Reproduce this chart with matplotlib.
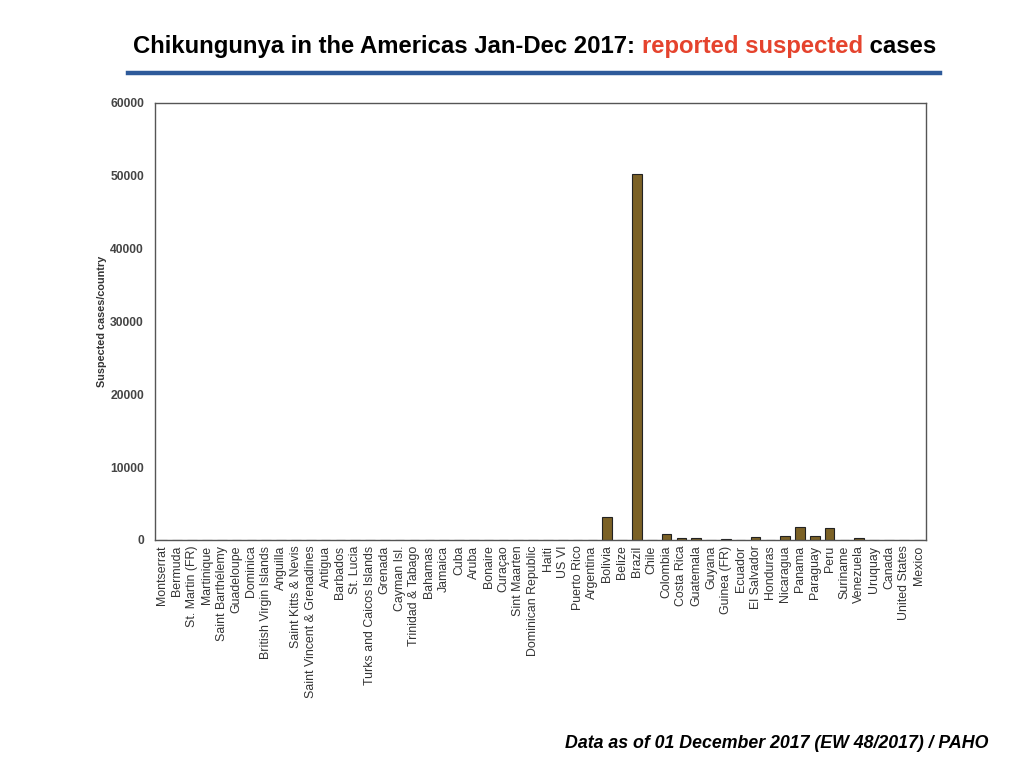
import matplotlib
matplotlib.use("Agg")
import matplotlib.pyplot as plt
from matplotlib.lines import Line2D

plt.rcParams["font.family"] = ["Liberation Sans", "DejaVu Sans"]

countries = [
    "Montserrat", "Bermuda", "St. Martin (FR)", "Martinique", "Saint Barthélemy",
    "Guadeloupe", "Dominica", "British Virgin Islands", "Anguilla", "Saint Kitts & Nevis",
    "Saint Vincent & Grenadines", "Antigua", "Barbados", "St. Lucia",
    "Turks and Caicos Islands", "Grenada", "Cayman Isl.", "Trinidad & Tabago",
    "Bahamas", "Jamaica", "Cuba", "Aruba", "Bonaire", "Curaçao", "Sint Maarten",
    "Dominican Republic", "Haiti", "US VI", "Puerto Rico", "Argentina", "Bolivia",
    "Belize", "Brazil", "Chile", "Colombia", "Costa Rica", "Guatemala", "Guyana",
    "Guinea (FR)", "Ecuador", "El Salvador", "Honduras", "Nicaragua", "Panama",
    "Paraguay", "Peru", "Suriname", "Venezuela", "Uruquay", "Canada",
    "United States", "Mexico",
]
cases = [
    0, 0, 0, 0, 0, 0, 0, 0, 0, 0, 0, 0, 0, 0, 0, 0, 0, 0, 0, 0, 0, 0, 0, 0, 0,
    0, 0, 0, 0, 0, 3120, 0, 50200, 0, 820, 230, 230, 0, 100, 0, 460, 0, 600,
    1790, 600, 1700, 0, 230, 0, 0, 0, 0,
]
yticks = [0, 10000, 20000, 30000, 40000, 50000, 60000]

fig = plt.figure(figsize=(10.24, 7.68), dpi=100)
ax = fig.add_axes([0.1514, 0.2969, 0.7529, 0.569])

x = range(len(countries))
ax.bar(x, cases, width=0.65, color="#7B6126", edgecolor="#222222", linewidth=0.8)
ax.set_xlim(-0.5, len(countries) - 0.5)
ax.set_ylim(0, 60000)
ax.set_yticks(yticks)
ax.set_yticklabels([str(v) for v in yticks], fontsize=8.7, fontweight="bold", color="#444444")
ax.set_xticks(list(x))
ax.set_xticklabels(countries, rotation=90, fontsize=8.9, color="#333333")
ax.tick_params(axis="both", length=0, pad=4)
ax.tick_params(axis="y", pad=8)
for s in ax.spines.values():
    s.set_color("#555555")
    s.set_linewidth(1.0)
ax.set_ylabel("Suspected cases/country", fontsize=7.8, fontweight="bold", color="#333333", labelpad=2)

# title in three colored pieces
fig.canvas.draw()
renderer = fig.canvas.get_renderer()
parts = [("Chikungunya in the Americas Jan-Dec 2017: ", "black"),
         ("reported suspected", "#E5432D"),
         (" cases", "black")]
xpos = 133 / 1024
for txt, col in parts:
    t = fig.text(xpos, 1 - 53 / 768, txt, fontsize=17.2, fontweight="bold", color=col,
                 ha="left", va="baseline")
    bb = t.get_window_extent(renderer)
    xpos = bb.x1 / fig.bbox.width

fig.add_artist(Line2D([128 / 1024, 940 / 1024], [1 - 72.5 / 768, 1 - 72.5 / 768],
                      color="#2E5A9A", linewidth=3.2, transform=fig.transFigure))

fig.text(988 / 1024, 1 - 743 / 768, "Data as of 01 December 2017 (EW 48/2017) / PAHO",
         fontsize=12.8, fontweight="bold", style="italic", ha="right", va="center")

fig.savefig("out.png", dpi=100)
